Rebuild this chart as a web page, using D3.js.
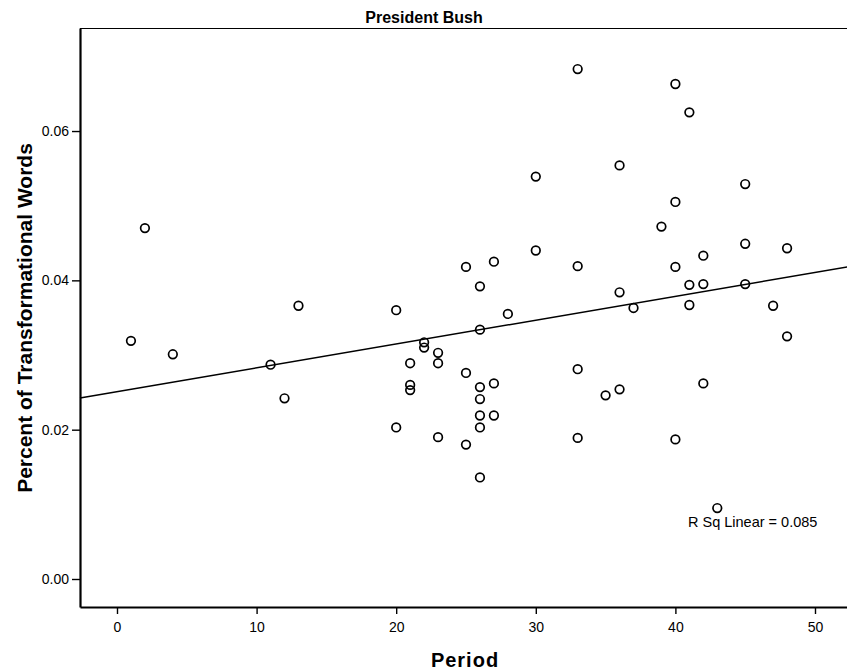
<!DOCTYPE html>
<html>
<head>
<meta charset="utf-8">
<script src="https://cdn.jsdelivr.net/npm/d3@7"></script>
<style>
  html, body { margin: 0; padding: 0; background: #fff; }
  svg { display: block; font-family: "Liberation Sans", Arial, sans-serif; }
</style>
</head>
<body>
<script>
(function () {
    'use strict';

    var width = 847;
    var height = 671;

    // Period of each speech and the share of transformational words
    var periods = [1, 2, 4, 11, 12, 13, 20, 20, 21, 21, 21, 22, 22, 23, 23, 23,
        25, 25, 25, 26, 26, 26, 26, 26, 26, 26, 27, 27, 27, 28, 30, 30,
        33, 33, 33, 33, 35, 36, 36, 36, 37, 39, 40, 40, 40, 40, 41, 41, 41,
        42, 42, 42, 43, 45, 45, 45, 47, 48, 48];
    var percents = [0.0319, 0.0470, 0.0301, 0.0287, 0.0242, 0.0366, 0.0360, 0.0203,
        0.0289, 0.0260, 0.0253, 0.0317, 0.0310, 0.0303, 0.0289, 0.0190,
        0.0418, 0.0276, 0.0180, 0.0392, 0.0334, 0.0257, 0.0241, 0.0219, 0.0203, 0.0136,
        0.0425, 0.0262, 0.0219, 0.0355, 0.0539, 0.0440,
        0.0683, 0.0419, 0.0281, 0.0189, 0.0246, 0.0554, 0.0384, 0.0254, 0.0363,
        0.0472, 0.0663, 0.0505, 0.0418, 0.0187, 0.0625, 0.0394, 0.0367,
        0.0433, 0.0395, 0.0262, 0.0095, 0.0529, 0.0449, 0.0395, 0.0366, 0.0443, 0.0325];

    var xTicks = [0, 10, 20, 30, 40, 50];
    var yTicks = [0, 0.02, 0.04, 0.06];

    var fitIntercept = 0.0251;
    var fitSlope = 0.000319;
    var rSquared = '0.085';

    var left = 80, right = 847, top = 28, bottom = 607;

    var x = d3.scaleLinear().domain([-2.65, 52.35]).range([left, right + 0.8]);
    var y = d3.scaleLinear().domain([-0.00375, 0.0738]).range([bottom, top]);

    var svg = d3.select('body').append('svg')
        .attr('width', width)
        .attr('height', height);

    // frame top line
    svg.append('line')
        .attr('x1', left).attr('x2', right)
        .attr('y1', top + 0.5).attr('y2', top + 0.5)
        .style('stroke', '#000')
        .style('stroke-width', 1.2);

    var xAxis = svg.append('g')
        .attr('transform', 'translate(0,' + bottom + ')')
        .call(d3.axisBottom(x).tickValues(xTicks).tickSizeInner(7).tickSizeOuter(0).tickPadding(8));

    var yAxis = svg.append('g')
        .attr('transform', 'translate(' + left + ',0)')
        .call(d3.axisLeft(y).tickValues(yTicks).tickSizeInner(8).tickSizeOuter(0).tickPadding(3)
            .tickFormat(d3.format('.2f')));

    [xAxis, yAxis].forEach(function (g) {
        g.select('.domain').style('stroke', '#000').style('stroke-width', 2.2);
        g.selectAll('.tick line').style('stroke', '#000').style('stroke-width', 1.4);
        g.selectAll('.tick text')
            .style('font-size', '14px')
            .style('fill', '#000');
    });

    // linear fit
    var xd = x.domain();
    svg.append('line')
        .attr('x1', x(xd[0])).attr('y1', y(fitIntercept + fitSlope * xd[0]))
        .attr('x2', x(xd[1])).attr('y2', y(fitIntercept + fitSlope * xd[1]))
        .style('stroke', '#000')
        .style('stroke-width', 1.5);

    svg.append('g').selectAll('circle')
        .data(periods)
      .enter().append('circle')
        .attr('cx', function (d) { return x(d); })
        .attr('cy', function (d, i) { return y(percents[i]); })
        .attr('r', 4.3)
        .style('fill', 'none')
        .style('stroke', '#000')
        .style('stroke-width', 1.7);

    svg.append('text')
        .attr('x', 688)
        .attr('y', 527)
        .style('font-size', '14.5px')
        .text('R Sq Linear = ' + rSquared);

    svg.append('text')
        .attr('x', 424)
        .attr('y', 23)
        .attr('text-anchor', 'middle')
        .style('font-size', '16px')
        .style('font-weight', 'bold')
        .text('President Bush');

    svg.append('text')
        .attr('x', 465)
        .attr('y', 667)
        .attr('text-anchor', 'middle')
        .style('font-size', '20px')
        .style('font-weight', 'bold')
        .style('letter-spacing', '1px')
        .text('Period');

    svg.append('text')
        .attr('transform', 'translate(32,318) rotate(-90)')
        .attr('text-anchor', 'middle')
        .style('font-size', '21px')
        .style('font-weight', 'bold')
        .text('Percent of Transformational Words');
})();
</script>
</body>
</html>
